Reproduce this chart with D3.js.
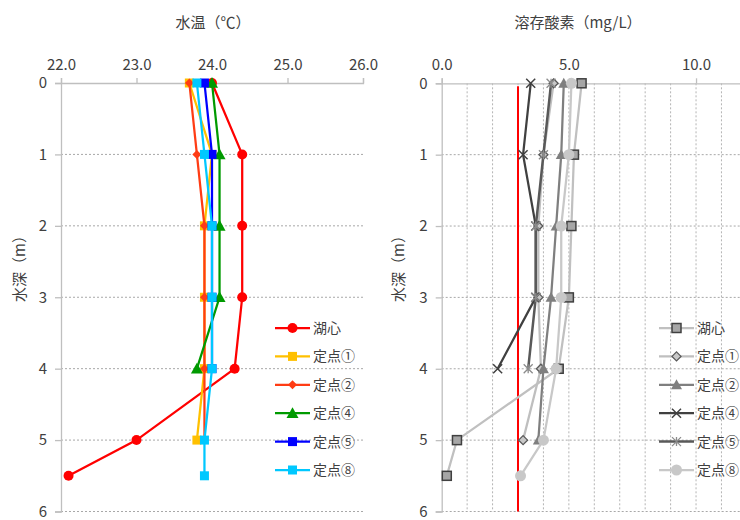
<!DOCTYPE html>
<html>
<head>
<meta charset="utf-8">
<script src="https://cdn.jsdelivr.net/npm/d3@7/dist/d3.min.js"></script>
<style>
  html, body { margin: 0; padding: 0; background: #fff; }
  svg text { font-family: "Noto Sans CJK JP", "Noto Sans", sans-serif; fill: #404040; }
</style>
</head>
<body>
<svg id="chart" width="740" height="520"></svg>
<script>
// Sampling depths (m)
const depths = [0, 1, 2, 3, 4, 5, 5.5];

// Water temperature (°C) per station; null = not measured
const tempLake = [24.0, 24.4, 24.4, 24.4, 24.3, 23.0, 22.1];
const temp1    = [23.7, 24.0, 23.9, 23.9, 23.9, 23.8, null];
const temp2    = [23.7, 23.8, 23.9, 23.9, 23.9, 23.9, null];
const temp4    = [24.0, 24.1, 24.1, 24.1, 23.8, null, null];
const temp5    = [23.9, 24.0, 24.0, 24.0, 24.0, null, null];
const temp8    = [23.8, 23.9, 24.0, 24.0, 24.0, 23.9, 23.9];

// Dissolved oxygen (mg/L) per station
const doLake = [5.5, 5.2, 5.1, 5.0, 4.6, 0.6, 0.2];
const do1    = [4.4, 4.0, 3.8, 3.8, 3.9, 3.2, null];
const do2    = [4.8, 4.7, 4.5, 4.3, 4.0, 3.8, null];
const do4    = [3.5, 3.2, 3.7, 3.7, 2.2, null, null];
const do5    = [4.3, 4.0, 3.7, 3.7, 3.4, null, null];
const do8    = [5.1, 5.0, 4.7, 4.7, 4.5, 4.0, 3.1];

// Reference line for dissolved oxygen (mg/L)
const doStandard = 3.0;

const seriesNames = ["湖心", "定点①", "定点②", "定点④", "定点⑤", "定点⑧"];
const tempTicks = [22, 23, 24, 25, 26];
const doTicks = [0, 5, 10];
const depthTicks = [0, 1, 2, 3, 4, 5, 6];

const svg = d3.select("#chart");

// Marker painters
function drawMarker(g, type, x, y, st) {
  if (type === "circle") {
    g.append("circle").attr("cx", x).attr("cy", y).attr("r", st.r || 5)
      .attr("fill", st.fill).attr("stroke", st.stroke || "none").attr("stroke-width", st.sw || 1);
  } else if (type === "square") {
    const s = st.s || 9;
    g.append("rect").attr("x", x - s / 2).attr("y", y - s / 2).attr("width", s).attr("height", s)
      .attr("fill", st.fill).attr("stroke", st.stroke || "none").attr("stroke-width", st.sw || 1);
  } else if (type === "diamond") {
    const s = st.s || 4;
    g.append("path").attr("d", `M${x},${y - s}L${x + s},${y}L${x},${y + s}L${x - s},${y}Z`)
      .attr("fill", st.fill).attr("stroke", st.stroke || "none").attr("stroke-width", st.sw || 1);
  } else if (type === "triangle") {
    const s = st.s || 5.5;
    g.append("path").attr("d", `M${x},${y - s}L${x + s},${y + s * 0.8}L${x - s},${y + s * 0.8}Z`)
      .attr("fill", st.fill).attr("stroke", st.stroke || "none").attr("stroke-width", st.sw || 1);
  } else if (type === "x") {
    const s = st.s || 4.5;
    g.append("path").attr("d", `M${x - s},${y - s}L${x + s},${y + s}M${x - s},${y + s}L${x + s},${y - s}`)
      .attr("stroke", st.stroke).attr("stroke-width", st.sw || 1.5).attr("fill", "none");
  } else if (type === "star") {
    const s = st.s || 4.5;
    g.append("path").attr("d",
      `M${x - s},${y - s}L${x + s},${y + s}M${x - s},${y + s}L${x + s},${y - s}M${x},${y - s}L${x},${y + s}`)
      .attr("stroke", st.stroke).attr("stroke-width", st.sw || 1.5).attr("fill", "none");
  }
}

function drawPanel(opts) {
  const g = svg.append("g");
  const x = d3.scaleLinear().domain(opts.xDomain).range(opts.xRange);
  const y = d3.scaleLinear().domain([0, 6]).range(opts.yRange);
  const [x0, x1] = opts.xRange;

  // Vertical grid (minor, dotted)
  if (opts.vGrid) {
    opts.vGrid.forEach(v => {
      if (v === 0) return;
      g.append("line").attr("x1", x(v)).attr("x2", x(v)).attr("y1", y(0)).attr("y2", y(6))
        .attr("stroke", "#b4b4b4").attr("stroke-width", 1).attr("stroke-dasharray", "2,2");
    });
  }
  // Horizontal grid
  depthTicks.forEach(d => {
    if (d === 0) return;
    g.append("line").attr("x1", x0).attr("x2", x1).attr("y1", y(d)).attr("y2", y(d))
      .attr("stroke", "#a8a8a8").attr("stroke-width", 1).attr("stroke-dasharray", "2,2");
  });

  // Top value axis
  const top = d3.axisTop(x).tickValues(opts.xTicks).tickSize(5).tickPadding(8)
    .tickFormat(d3.format(".1f"));
  const ta = g.append("g").attr("transform", `translate(0,${y(0)})`).call(top);
  ta.select(".domain").attr("stroke", "#bfbfbf").attr("stroke-width", 1.3);
  ta.selectAll(".tick line").attr("stroke", "#bfbfbf").attr("stroke-width", 1.3);
  ta.selectAll(".tick text").style("font-size", "15px").attr("fill", "#404040");

  // Left depth axis
  const left = d3.axisLeft(y).tickValues(depthTicks).tickSize(6).tickPadding(8)
    .tickFormat(d3.format("d"));
  const la = g.append("g").attr("transform", `translate(${x0},0)`).call(left);
  la.select(".domain").attr("stroke", "#bfbfbf").attr("stroke-width", 1.3);
  la.selectAll(".tick line").attr("stroke", "#bfbfbf").attr("stroke-width", 1.3);
  la.selectAll(".tick text").style("font-size", "15px").attr("fill", "#404040");

  // Titles
  g.append("text").attr("x", opts.titleX).attr("y", 28).attr("text-anchor", "middle")
    .style("font-size", "15px").text(opts.title);
  g.append("text").attr("transform", `translate(${opts.yTitleX},265) rotate(-90)`)
    .attr("text-anchor", "middle").style("font-size", "15px").text("水深（m）");

  if (opts.refLine !== undefined) {
    g.append("line").attr("x1", x(opts.refLine)).attr("x2", x(opts.refLine))
      .attr("y1", y(0) + 3).attr("y2", y(6)).attr("stroke", "#ff0000").attr("stroke-width", 2);
  }

  const line = d3.line().defined(d => d.v !== null).x(d => x(d.v)).y(d => y(d.d));

  opts.series.forEach(s => {
    const pts = s.values.map((v, i) => ({ v: v, d: depths[i] }));
    g.append("path").datum(pts).attr("d", line).attr("fill", "none")
      .attr("stroke", s.color).attr("stroke-width", s.lw || 2.25);
    const mg = g.append("g");
    pts.filter(p => p.v !== null).forEach(p => drawMarker(mg, s.marker, x(p.v), y(p.d), s.mst));
  });

  // Legend
  const lg = g.append("g");
  opts.series.forEach((s, i) => {
    const ly = opts.legend.y + i * 28.4;
    lg.append("line").attr("x1", opts.legend.x).attr("x2", opts.legend.x + 35)
      .attr("y1", ly).attr("y2", ly).attr("stroke", s.color).attr("stroke-width", s.lw || 2.25);
    drawMarker(lg, s.marker, opts.legend.x + 17.5, ly, s.mst);
    lg.append("text").attr("x", opts.legend.x + 38).attr("y", ly + 5)
      .style("font-size", "14px").text(seriesNames[i]);
  });
}

drawPanel({
  title: "水温（℃）", titleX: 213, yTitleX: 25,
  xDomain: [22, 26], xRange: [61, 363], yRange: [83, 511.5],
  xTicks: tempTicks,
  legend: { x: 275, y: 328 },
  series: [
    { values: tempLake, color: "#ff0000", marker: "circle", mst: { fill: "#ff0000", r: 5 } },
    { values: temp1, color: "#ffc000", marker: "square", mst: { fill: "#ffc000", s: 9 } },
    { values: temp2, color: "#ff3c14", marker: "diamond", mst: { fill: "#ff3c14", s: 4.5 } },
    { values: temp4, color: "#009a00", marker: "triangle", mst: { fill: "#009a00", s: 6 } },
    { values: temp5, color: "#0000ff", marker: "square", mst: { fill: "#0000ff", s: 9 } },
    { values: temp8, color: "#00c8ff", marker: "square", mst: { fill: "#00c8ff", s: 9 } }
  ]
});

drawPanel({
  title: "溶存酸素（mg/L）", titleX: 578, yTitleX: 404,
  xDomain: [0, 12], xRange: [441.7, 746.9], yRange: [83.3, 511.5],
  xTicks: doTicks,
  vGrid: d3.range(0, 13),
  refLine: doStandard,
  legend: { x: 659, y: 328 },
  series: [
    { values: doLake, color: "#c0c0c0", marker: "square", mst: { fill: "#a6a6a6", stroke: "#404040", sw: 1.5, s: 9 } },
    { values: do1, color: "#bfbfbf", marker: "diamond", mst: { fill: "#c8c8c8", stroke: "#595959", sw: 1.3, s: 4.5 } },
    { values: do2, color: "#7f7f7f", marker: "triangle", mst: { fill: "#7f7f7f", s: 5.5 } },
    { values: do4, color: "#404040", marker: "x", mst: { stroke: "#404040", s: 4.5, sw: 1.5 } },
    { values: do5, color: "#595959", marker: "star", mst: { stroke: "#8c8c8c", s: 4.5, sw: 1.3 }, lw: 2.5 },
    { values: do8, color: "#c8c8c8", marker: "circle", mst: { fill: "#c8c8c8", r: 5.5 } }
  ]
});
</script>
</body>
</html>
